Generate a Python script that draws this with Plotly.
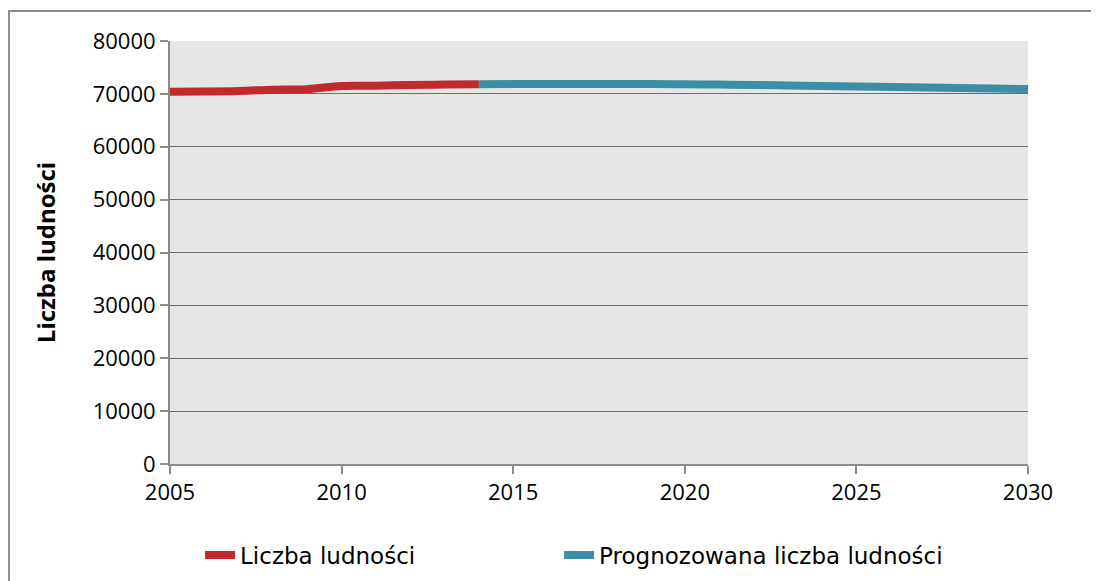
import plotly.graph_objects as go

# Dane historyczne
lata_hist = [2005, 2006, 2007, 2008, 2009, 2010, 2011, 2012, 2013, 2014]
ludnosc_hist = [70400, 70450, 70550, 70800, 70900, 71500, 71550, 71700, 71750, 71800]

# Prognoza
lata_prog = list(range(2014, 2031))
ludnosc_prog = [71800, 71850, 71850, 71850, 71850, 71850, 71800, 71750, 71700,
                71600, 71500, 71400, 71300, 71200, 71100, 71000, 70900]

odstep = '\u00a0' * 19  # odstep miedzy pozycjami legendy

fig = go.Figure()
fig.add_trace(go.Scatter(x=lata_hist, y=ludnosc_hist, mode='lines', name='Liczba ludności' + odstep,
                         line=dict(color='#c1292e', width=8, shape='spline')))
fig.add_trace(go.Scatter(x=lata_prog, y=ludnosc_prog, mode='lines', name='Prognozowana liczba ludności',
                         line=dict(color='#3a8fa6', width=8, shape='spline')))

# strona ma 8px marginesu body, wiec wykres jest mniejszy o 8px
fig.update_layout(
    width=1091, height=573,
    margin=dict(l=162, r=71, t=33, b=117, autoexpand=False),
    plot_bgcolor='#e6e6e6', paper_bgcolor='white',
    font=dict(family='Open Sans, Liberation Sans, Arial', size=22, color='black'),
    showlegend=True,
    legend=dict(orientation='h', x=0.035, xanchor='left', y=-0.215, yanchor='middle',
                font=dict(family='DejaVu Sans', size=23), itemwidth=30),
    xaxis=dict(range=[2005, 2030], tickvals=[2005, 2010, 2015, 2020, 2025, 2030],
               showgrid=False, showline=True, linecolor='#8c8c8c', linewidth=2,
               ticks='outside', ticklen=8, tickcolor='#8c8c8c', tickwidth=2, zeroline=False),
    yaxis=dict(range=[0, 80000], dtick=10000, tickformat='d',
               showgrid=True, gridcolor='#6e6e6e', gridwidth=1,
               showline=True, linecolor='#8c8c8c', linewidth=2,
               ticks='outside', ticklen=8, tickcolor='#8c8c8c', tickwidth=2, zeroline=False,
               title=dict(text='<b>Liczba ludności</b>', standoff=30,
                          font=dict(family='Open Sans, Liberation Sans', size=24))),
)

# Ramka wykresu
fig.add_shape(type='rect', xref='paper', yref='paper', x0=-0.1876, y0=-0.5, x1=1.079, y1=1.071,
              line=dict(color='#8c8c8c', width=2), layer='below')

fig.write_html("out.html")
